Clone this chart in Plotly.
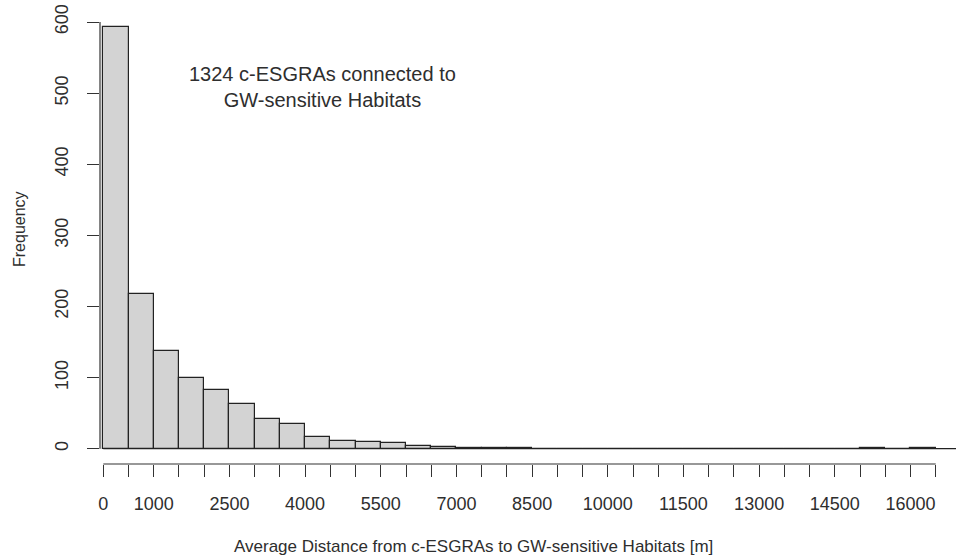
import plotly.graph_objects as go

# Histogram data (bin width 500 m, bins from 0 to 16500)
bin_starts = list(range(0, 16500, 500))
counts = [593, 218, 137, 100, 82, 63, 42, 35, 17, 11, 10, 8, 4,
          2, 1, 1, 1,
          0, 0, 0, 0, 0, 0, 0, 0, 0, 0, 0, 0,
          0, 1, 0, 1]
bin_width = 500
x_tick_vals = list(range(0, 16501, 500))
x_label_vals = [0, 1000, 2500, 4000, 5500, 7000, 8500, 10000, 11500, 13000, 14500, 16000]
y_tick_vals = [0, 100, 200, 300, 400, 500, 600]

annotation_text = "1324 c-ESGRAs connected to<br>GW-sensitive Habitats"
x_title = "Average Distance from c-ESGRAs to GW-sensitive Habitats [m]"
y_title = "Frequency"

FONT = "Liberation Sans, Arial, sans-serif"
TXT = "#2e2e2e"

centers = [s + bin_width / 2 for s in bin_starts]

fig = go.Figure()
fig.add_trace(go.Bar(
    x=centers, y=counts, width=[bin_width] * len(centers),
    marker=dict(color="#D3D3D3", line=dict(color="#222222", width=1.2)),
    hoverinfo="skip",
))

ticktext = [str(v) if v in x_label_vals else "" for v in x_tick_vals]

fig.update_layout(
    width=956, height=560,
    margin=dict(l=100, r=0, t=10, b=96),
    plot_bgcolor="white", paper_bgcolor="white",
    showlegend=False, bargap=0,
    font=dict(family=FONT, size=17, color=TXT),
    xaxis=dict(range=[-65.4, 16902], showgrid=False, zeroline=False, showline=False,
               automargin=False,
               tickmode="array", tickvals=x_tick_vals, ticktext=ticktext,
               ticks="outside", ticklen=12, tickwidth=1.2, tickcolor="#333333",
               ticklabelstandoff=11,
               tickfont=dict(family=FONT, size=18, color=TXT)),
    yaxis=dict(range=[-21.5, 616.9], showgrid=False, zeroline=False, showline=False,
               automargin=False,
               tickmode="array", tickvals=y_tick_vals,
               ticktext=[str(v) for v in y_tick_vals],
               ticks="outside", ticklen=12, tickwidth=1.2, tickcolor="#333333",
               ticklabelstandoff=12,
               tickangle=-90, tickfont=dict(family=FONT, size=18, color=TXT)),
)

# axis lines (R style, limited to the tick range)
fig.add_shape(type="line", xref="paper", yref="y", x0=0, x1=0,
              y0=y_tick_vals[0], y1=y_tick_vals[-1], line=dict(color="#333333", width=1.2))
fig.add_shape(type="line", xref="x", yref="paper", x0=x_tick_vals[0], x1=x_tick_vals[-1],
              y0=0, y1=0, line=dict(color="#333333", width=1.2))
# baseline
fig.add_shape(type="line", xref="x", yref="y", x0=0, x1=16902, y0=0, y1=0,
              line=dict(color="#222222", width=1.2))

fig.add_annotation(x=4335, y=509, xref="x", yref="y", text=annotation_text,
                   showarrow=False, font=dict(family=FONT, size=20, color=TXT))
fig.add_annotation(x=(473 - 100) / 856, y=(464 - 546) / 454, xref="paper", yref="paper",
                   text=x_title, showarrow=False, xanchor="center", yanchor="middle",
                   font=dict(family=FONT, size=17, color=TXT))
fig.add_annotation(x=(19 - 100) / 856, y=(464 - 229) / 454, xref="paper", yref="paper",
                   text=y_title, showarrow=False, textangle=-90,
                   xanchor="center", yanchor="middle",
                   font=dict(family=FONT, size=16, color=TXT))

fig.write_html("out.html", config={"displayModeBar": False},
               post_script="document.body.style.margin='0';")
